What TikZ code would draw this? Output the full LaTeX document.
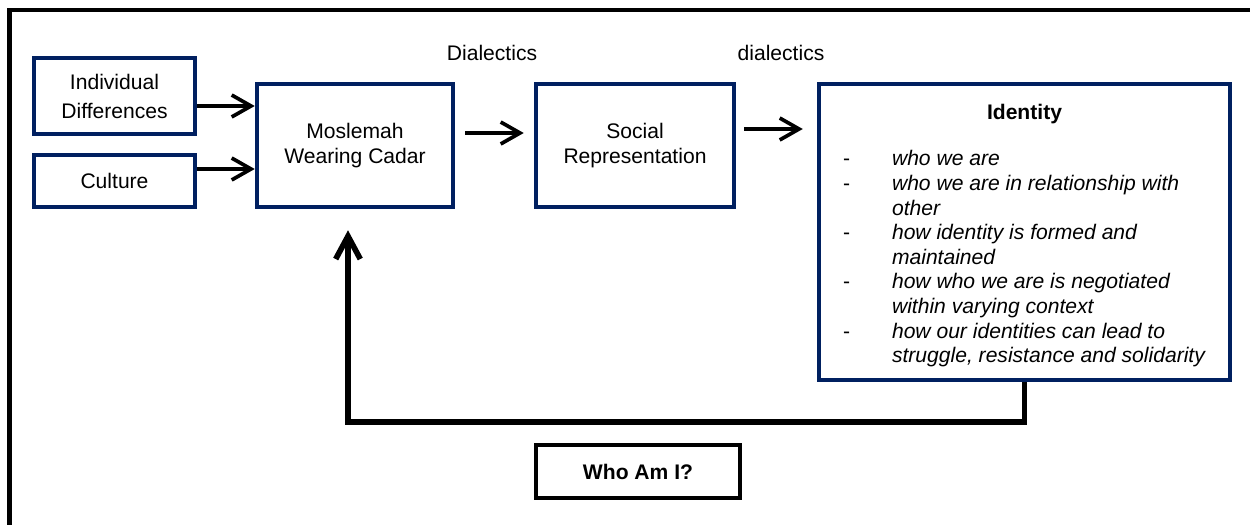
\documentclass[tikz,border=0pt]{standalone}
\usepackage{fontspec}
\setmainfont{Liberation Sans}
\usepackage{xcolor}
\usepackage{tikz}
\usetikzlibrary{arrows.meta, positioning}
\definecolor{boxnavy}{RGB}{0, 32, 96}

\begin{document}
\begin{tikzpicture}[
    x=0.02cm, y=-0.02cm,
    font=\fontsize{12}{14}\selectfont,
    blk/.style    = {draw=boxnavy, line width=2.6pt, align=center, inner sep=2pt},
    whobox/.style = {draw=black, line width=2.8pt, align=center,
                     minimum width=4.08cm, minimum height=1.06cm},
    arrow/.style  = {-{Straight Barb[length=11pt, width=12.5pt]}, line width=2.1pt},
    back/.style   = {-{Straight Barb[length=13pt, width=14pt]}, line width=3.2pt},
    frame/.style  = {line width=2.8pt},
  ]
  \useasboundingbox (0,0) rectangle (1250,524);
  \draw[frame] (1260,10) -- (9.5,10) -- (9.5,540);

  \node[blk, minimum width=3.22cm, minimum height=1.52cm] (indiv) at (114.5,96) {Individual\\[2.5pt]Differences};
  \node[blk, minimum width=3.22cm, minimum height=1.04cm] (cult) at (114.5,181) {Culture};
  \node[blk, minimum width=3.92cm, minimum height=2.46cm] (mosl) at (355,145.5) {Moslemah\\Wearing Cadar};
  \node[blk, minimum width=3.96cm, minimum height=2.46cm] (soc) at (635,145.5) {Social\\Representation};
  \node[blk, minimum width=8.22cm, minimum height=5.92cm] (ident) at (1024.5,232) {%
    \rule{0pt}{0.2cm}\\[-0.19cm]
    \textbf{Identity}\\[0.47cm]
    \begin{tabular}{@{}l@{\hspace{0.84cm}}l@{}}
      - & \textit{who we are}\\
      - & \textit{who we are in relationship with}\\
        & \textit{other}\\
      - & \textit{how identity is formed and}\\
        & \textit{maintained}\\
      - & \textit{how who we are is negotiated}\\
        & \textit{within varying context}\\
      - & \textit{how our identities can lead to}\\
        & \textit{struggle, resistance and solidarity}
    \end{tabular}};
  \node[whobox] (who) at (638,471.5) {\textbf{Who Am I?}};

  \node (dial1) at (492,53) {Dialectics};
  \node (dial2) at (781,53) {dialectics};

  \draw[arrow] ([yshift=-0.2cm]indiv.east) -- ([yshift=-0.2cm]indiv.east -| mosl.west);
  \draw[arrow] ([yshift=0.24cm]cult.east) -- ([yshift=0.24cm]cult.east -| mosl.west);
  \draw[arrow, shorten <=0.2cm, shorten >=0.2cm] ([yshift=0.25cm]mosl.east) -- ([yshift=0.25cm]mosl.east -| soc.west);
  \draw[arrow, shorten <=0.16cm, shorten >=0.28cm] ([yshift=0.33cm]soc.east) -- ([yshift=0.33cm]soc.east -| ident.west);

  % back to the start
  \coordinate (turn) at (348,422);
  \draw[back, shorten >=0.42cm] (ident.south) |- (turn) -- (turn |- mosl.south);
\end{tikzpicture}
\end{document}
